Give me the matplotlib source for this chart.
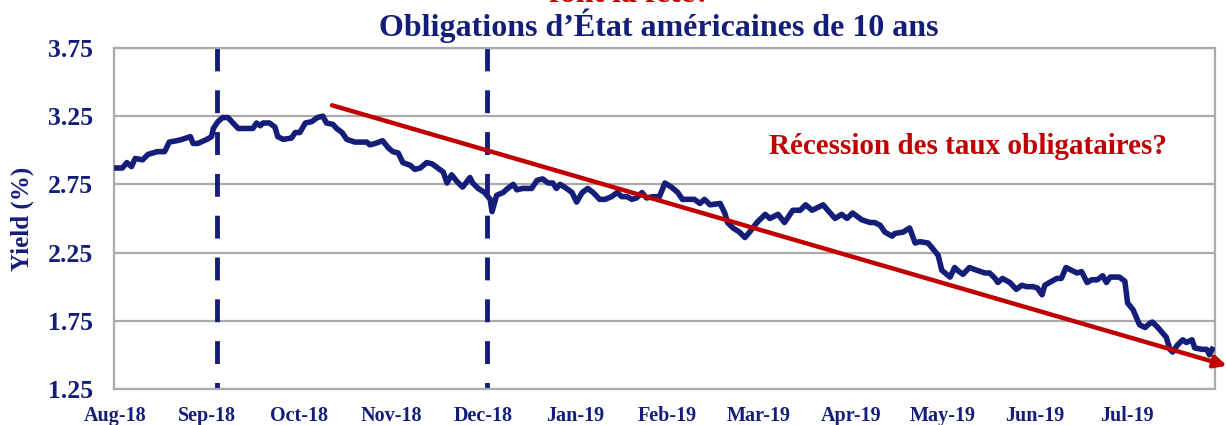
import matplotlib
matplotlib.use("Agg")
import matplotlib.pyplot as plt

# axis labels
month_labels = ["Aug-18", "Sep-18", "Oct-18", "Nov-18", "Dec-18", "Jan-19",
                "Feb-19", "Mar-19", "Apr-19", "May-19", "Jun-19", "Jul-19"]
y_ticks = [1.25, 1.75, 2.25, 2.75, 3.25, 3.75]

# 10y yield, x in months from Aug-18 label
t = [-0.01, 0.08, 0.13, 0.18, 0.22, 0.30, 0.36, 0.41, 0.46, 0.54,
     0.59, 0.67, 0.73, 0.82, 0.85, 0.90, 1.00, 1.05, 1.07, 1.12,
     1.17, 1.23, 1.27, 1.34, 1.43, 1.50, 1.54, 1.58, 1.61, 1.68,
     1.74, 1.77, 1.83, 1.92, 1.96, 2.01, 2.07, 2.14, 2.20, 2.26,
     2.30, 2.37, 2.41, 2.47, 2.52, 2.61, 2.74, 2.77, 2.83, 2.91,
     2.97, 3.02, 3.08, 3.13, 3.21, 3.26, 3.32, 3.39, 3.45, 3.51,
     3.57, 3.61, 3.66, 3.72, 3.78, 3.86, 3.89, 3.95, 4.02, 4.08,
     4.10, 4.15, 4.22, 4.27, 4.33, 4.37, 4.43, 4.53, 4.59, 4.65,
     4.71, 4.76, 4.80, 4.84, 4.91, 4.97, 5.02, 5.08, 5.14, 5.20,
     5.27, 5.33, 5.40, 5.46, 5.51, 5.57, 5.62, 5.67, 5.73, 5.78,
     5.85, 5.92, 5.98, 6.05, 6.12, 6.17, 6.23, 6.30, 6.36, 6.41,
     6.47, 6.58, 6.63, 6.66, 6.72, 6.79, 6.85, 6.90, 6.98, 7.01,
     7.07, 7.12, 7.21, 7.28, 7.37, 7.45, 7.51, 7.58, 7.70, 7.75,
     7.83, 7.90, 7.96, 8.02, 8.12, 8.21, 8.26, 8.32, 8.37, 8.45,
     8.48, 8.57, 8.64, 8.70, 8.75, 8.84, 8.89, 8.95, 8.99, 9.08,
     9.13, 9.16, 9.22, 9.29, 9.37, 9.46, 9.51, 9.57, 9.60, 9.65,
     9.73, 9.80, 9.86, 9.91, 9.98, 10.03, 10.08, 10.11, 10.16, 10.24,
     10.29, 10.34, 10.40, 10.46, 10.51, 10.57, 10.62, 10.68, 10.74, 10.78,
     10.82, 10.92, 10.98, 11.01, 11.07, 11.14, 11.20, 11.25, 11.28, 11.34,
     11.39, 11.43, 11.47, 11.50, 11.55, 11.61, 11.65, 11.71, 11.74, 11.82,
     11.87, 11.90, 11.93]
yld = [2.87, 2.87, 2.91, 2.88, 2.94, 2.93, 2.97, 2.98, 2.99, 2.99,
       3.06, 3.07, 3.08, 3.10, 3.05, 3.05, 3.08, 3.10, 3.16, 3.21,
       3.24, 3.24, 3.21, 3.16, 3.16, 3.16, 3.20, 3.18, 3.20, 3.20,
       3.17, 3.10, 3.08, 3.09, 3.13, 3.13, 3.20, 3.21, 3.24, 3.25,
       3.20, 3.19, 3.16, 3.13, 3.08, 3.06, 3.06, 3.04, 3.05, 3.07,
       3.02, 2.99, 2.98, 2.91, 2.89, 2.86, 2.87, 2.91, 2.90, 2.87,
       2.84, 2.76, 2.82, 2.77, 2.73, 2.80, 2.76, 2.72, 2.69, 2.64,
       2.55, 2.67, 2.69, 2.72, 2.75, 2.71, 2.72, 2.72, 2.78, 2.79,
       2.76, 2.76, 2.72, 2.75, 2.72, 2.69, 2.62, 2.69, 2.72, 2.69,
       2.64, 2.64, 2.66, 2.69, 2.66, 2.66, 2.64, 2.65, 2.69, 2.65,
       2.66, 2.66, 2.76, 2.73, 2.69, 2.64, 2.64, 2.64, 2.61, 2.64,
       2.60, 2.61, 2.54, 2.47, 2.43, 2.40, 2.36, 2.40, 2.47, 2.49,
       2.53, 2.50, 2.53, 2.47, 2.56, 2.56, 2.60, 2.56, 2.60, 2.56,
       2.50, 2.53, 2.50, 2.54, 2.49, 2.47, 2.47, 2.45, 2.40, 2.37,
       2.39, 2.40, 2.43, 2.32, 2.33, 2.32, 2.28, 2.23, 2.12, 2.07,
       2.14, 2.12, 2.09, 2.14, 2.12, 2.10, 2.10, 2.06, 2.03, 2.06,
       2.03, 1.98, 2.01, 2.00, 2.00, 1.99, 1.94, 2.01, 2.03, 2.06,
       2.06, 2.14, 2.12, 2.10, 2.11, 2.03, 2.05, 2.05, 2.08, 2.03,
       2.07, 2.07, 2.04, 1.88, 1.83, 1.72, 1.70, 1.73, 1.74, 1.70,
       1.66, 1.63, 1.54, 1.52, 1.57, 1.61, 1.59, 1.61, 1.55, 1.54,
       1.54, 1.50, 1.54]

# Fed hikes (dashed lines) and the trend arrow
events = [1.11, 4.05]
trend_start = (2.36, 3.33)
trend_end = (12.09, 1.42)

navy = "#141E78"
red = "#C00000"
grey = "#ABABAB"
serif = "Liberation Serif"

fig = plt.figure(figsize=(12.26, 4.25), dpi=100)
ax = fig.add_axes([0.093, 0.085, 0.898, 0.802])

ax.set_xlim(-0.01, 11.96)
ax.set_ylim(1.25, 3.75)
ax.set_axisbelow(True)
ax.yaxis.grid(True, color=grey, linewidth=1.6)

for s in ax.spines.values():
    s.set_color(grey)
    s.set_linewidth(1.6)

for e in events:
    ax.plot([e, e], [3.75, 1.25], color=navy, linewidth=3.5,
            dashes=(4.7, 3.9), zorder=2, clip_on=False)

ax.plot(t, yld, color=navy, linewidth=4, zorder=3, solid_joinstyle="round")

ax.annotate("", xy=trend_end, xytext=trend_start, annotation_clip=False,
            arrowprops=dict(arrowstyle="-|>", color=red, lw=3.2,
                            mutation_scale=18, shrinkA=0, shrinkB=0),
            zorder=4)

ax.set_xticks(range(len(month_labels)))
ax.set_xticklabels(month_labels)
ax.set_yticks(y_ticks)
ax.set_yticklabels([f"{v:.2f}" for v in y_ticks])
ax.tick_params(axis="both", length=0, colors=navy)
ax.tick_params(axis="x", pad=12)
ax.tick_params(axis="y", pad=15)
for lab in ax.get_xticklabels():
    lab.set_fontfamily(serif)
    lab.set_fontweight("bold")
    lab.set_fontsize(14.5)
for lab in ax.get_yticklabels():
    lab.set_fontfamily(serif)
    lab.set_fontweight("bold")
    lab.set_fontsize(18.5)

ax.set_ylabel("Yield (%)", family=serif, fontweight="bold", fontsize=18,
              color=navy, labelpad=10)

ax.text(9.28, 3.03, "Récession des taux obligataires?", family=serif,
        fontweight="bold", fontsize=21, color=red, ha="center", va="center")

fig.text(0.5375, 0.916, "Obligations d’État américaines de 10 ans",
         family=serif, fontweight="bold", fontsize=23, color=navy,
         ha="center", va="baseline")
# top line of the slide title, mostly above the image edge
fig.text(0.514, 0.995, "font la fête?", family=serif, fontweight="bold",
         fontsize=23, color=red, ha="center", va="baseline")

fig.savefig("out.png", dpi=100)
